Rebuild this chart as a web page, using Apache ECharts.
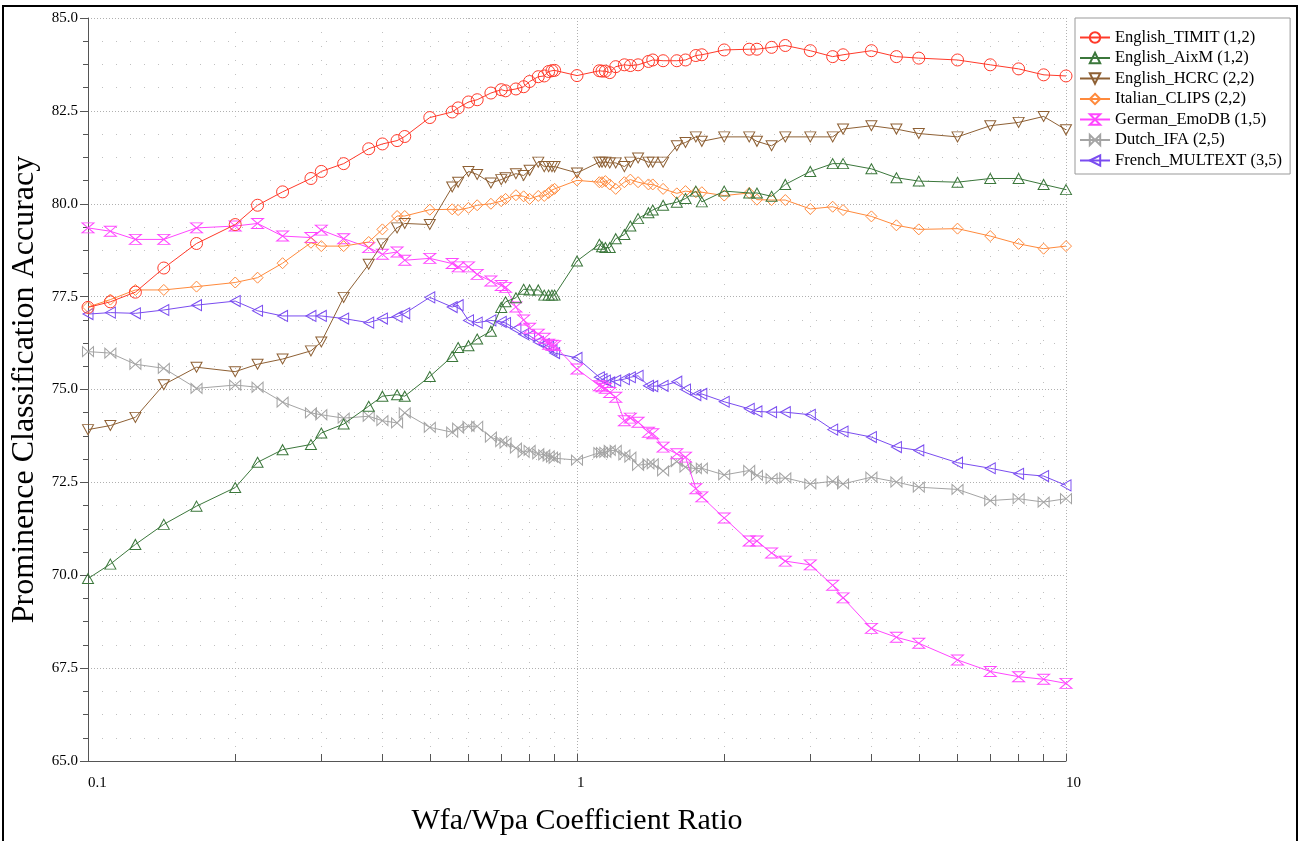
<!DOCTYPE html>
<html><head><meta charset="utf-8">
<script src="https://cdn.jsdelivr.net/npm/echarts@6/dist/echarts.min.js"></script>
<style>html,body{margin:0;padding:0;background:#fff}#c{width:1301px;height:841px}</style>
</head><body><div id="c"></div>
<script>
// x values: Wfa/Wpa coefficient ratios
const ratios = [0.1, 0.1111, 0.125, 0.1429, 0.1667, 0.2, 0.2222, 0.25, 0.2857, 0.3,
  0.3333, 0.375, 0.4, 0.4286, 0.4444, 0.5, 0.5556, 0.5714, 0.6, 0.625,
  0.6667, 0.7, 0.7143, 0.75, 0.7778, 0.8, 0.8333, 0.8571, 0.875, 0.8889,
  0.9, 1, 1.1111, 1.125, 1.1429, 1.1667, 1.2, 1.25, 1.2857, 1.3333,
  1.4, 1.4286, 1.5, 1.6, 1.6667, 1.75, 1.8, 2, 2.25, 2.3333,
  2.5, 2.6667, 3, 3.3333, 3.5, 4, 4.5, 5, 6, 7,
  8, 9, 10];

const english_TIMIT = [77.21, 77.36, 77.62, 78.27, 78.93, 79.44, 79.96, 80.32, 80.68, 80.87,
  81.08, 81.48, 81.61, 81.70, 81.81, 82.32, 82.47, 82.58, 82.74, 82.80,
  82.98, 83.07, 83.04, 83.09, 83.15, 83.29, 83.42, 83.44, 83.56, 83.58,
  83.59, 83.45, 83.58, 83.57, 83.57, 83.53, 83.69, 83.74, 83.72, 83.74,
  83.83, 83.87, 83.85, 83.85, 83.87, 83.99, 84.01, 84.14, 84.16, 84.16,
  84.21, 84.26, 84.12, 83.96, 84.01, 84.12, 83.96, 83.92, 83.87, 83.74,
  83.63, 83.47, 83.44];
const english_AixM = [69.91, 70.30, 70.83, 71.37, 71.86, 72.36, 73.04, 73.38, 73.52, 73.83,
  74.07, 74.55, 74.82, 74.86, 74.82, 75.35, 75.89, 76.13, 76.18, 76.36,
  76.57, 77.21, 77.36, 77.47, 77.70, 77.68, 77.68, 77.54, 77.54, 77.54,
  77.54, 78.46, 78.91, 78.84, 78.82, 78.82, 79.06, 79.17, 79.40, 79.60,
  79.76, 79.83, 79.96, 80.04, 80.14, 80.34, 80.05, 80.34, 80.29, 80.29,
  80.20, 80.52, 80.87, 81.08, 81.08, 80.94, 80.70, 80.61, 80.58, 80.68,
  80.68, 80.52, 80.38];
const english_HCRC = [73.92, 74.03, 74.25, 75.13, 75.60, 75.48, 75.68, 75.82, 76.04, 76.28,
  77.48, 78.37, 78.92, 79.35, 79.47, 79.44, 80.45, 80.58, 80.87, 80.79,
  80.56, 80.65, 80.70, 80.81, 80.76, 80.90, 81.12, 81.00, 81.00, 81.00,
  81.00, 80.83, 81.12, 81.12, 81.12, 81.10, 81.10, 81.00, 81.12, 81.23,
  81.12, 81.12, 81.12, 81.56, 81.65, 81.80, 81.68, 81.80, 81.80, 81.68,
  81.56, 81.80, 81.80, 81.80, 82.01, 82.10, 82.01, 81.89, 81.80, 82.10,
  82.19, 82.35, 81.99];
const italian_CLIPS = [77.22, 77.42, 77.68, 77.68, 77.77, 77.88, 78.01, 78.40, 78.95, 78.86,
  78.86, 78.97, 79.31, 79.67, 79.67, 79.84, 79.85, 79.83, 79.89, 79.96,
  80.00, 80.07, 80.13, 80.23, 80.20, 80.13, 80.21, 80.21, 80.29, 80.37,
  80.40, 80.63, 80.58, 80.58, 80.61, 80.52, 80.40, 80.58, 80.65, 80.58,
  80.52, 80.52, 80.40, 80.28, 80.34, 80.31, 80.31, 80.22, 80.29, 80.11,
  80.10, 80.10, 79.86, 79.92, 79.83, 79.66, 79.42, 79.31, 79.33, 79.13,
  78.92, 78.79, 78.86];
const german_EmoDB = [79.35, 79.26, 79.04, 79.04, 79.35, 79.40, 79.47, 79.13, 79.09, 79.29,
  79.06, 78.82, 78.64, 78.70, 78.48, 78.53, 78.39, 78.30, 78.30, 78.10,
  77.92, 77.80, 77.75, 77.22, 76.87, 76.65, 76.49, 76.38, 76.22, 76.19,
  76.18, 75.55, 75.10, 75.07, 75.03, 74.92, 74.79, 74.16, 74.23, 74.12,
  73.85, 73.81, 73.45, 73.27, 73.18, 72.33, 72.11, 71.54, 70.92, 70.92,
  70.60, 70.38, 70.28, 69.73, 69.39, 68.57, 68.33, 68.17, 67.72, 67.41,
  67.27, 67.20, 67.09];
const dutch_IFA = [76.02, 75.98, 75.68, 75.57, 75.03, 75.12, 75.06, 74.66, 74.37, 74.32,
  74.23, 74.28, 74.16, 74.10, 74.37, 73.98, 73.85, 73.96, 74.01, 74.01,
  73.72, 73.60, 73.56, 73.42, 73.31, 73.36, 73.27, 73.24, 73.21, 73.18,
  73.15, 73.10, 73.30, 73.30, 73.31, 73.36, 73.36, 73.24, 73.18, 72.96,
  73.00, 73.00, 72.81, 73.06, 72.91, 72.87, 72.88, 72.70, 72.82, 72.69,
  72.60, 72.62, 72.46, 72.53, 72.46, 72.64, 72.51, 72.37, 72.31, 72.01,
  72.06, 71.97, 72.06];
const french_MULTEXT = [77.03, 77.07, 77.05, 77.14, 77.27, 77.38, 77.12, 76.98, 76.98, 76.98,
  76.91, 76.80, 76.91, 76.96, 77.05, 77.48, 77.22, 77.27, 76.86, 76.80,
  76.86, 76.82, 76.79, 76.63, 76.49, 76.45, 76.28, 76.22, 76.15, 76.06,
  75.98, 75.85, 75.33, 75.28, 75.24, 75.19, 75.24, 75.28, 75.33, 75.37,
  75.10, 75.09, 75.10, 75.21, 75.00, 74.85, 74.88, 74.67, 74.48, 74.41,
  74.39, 74.39, 74.32, 73.92, 73.87, 73.72, 73.45, 73.36, 73.03, 72.88,
  72.73, 72.67, 72.42];

const seriesNames = ['English_TIMIT (1,2)', 'English_AixM (1,2)', 'English_HCRC (2,2)',
  'Italian_CLIPS (2,2)', 'German_EmoDB (1,5)', 'Dutch_IFA (2,5)', 'French_MULTEXT (3,5)'];
const seriesValues = [english_TIMIT, english_AixM, english_HCRC, italian_CLIPS,
  german_EmoDB, dutch_IFA, french_MULTEXT];

const xMajorTicks = [0.1, 1, 10];
const xMinorTicks = [0.2, 0.3, 0.4, 0.5, 0.6, 0.7, 0.8, 0.9, 2, 3, 4, 5, 6, 7, 8, 9];

const colors = ['#ff3a2a', '#3b773b', '#8e6034', '#ff8a3c', '#ff46ff', '#a4a4a4', '#7a4cf0'];
const symbols = ['circle',
  'path://M5,0 L10,9 L0,9 Z',
  'path://M0,0 L10,0 L5,9 Z',
  'path://M5,0 L10,5 L5,10 L0,5 Z',
  'path://M0,0 L10,0 L0,10 L10,10 Z',
  'path://M0,0 L0,10 L10,0 L10,10 Z',
  'path://M0,5 L9,0 L9,10 Z'];
const sizes = [12, [11, 10], [11, 10], [11, 11], [12, 10], [11, 10], [10, 11]];

const serif = 'Liberation Serif';
const chart = echarts.init(document.getElementById('c'), null, {renderer: 'canvas'});

const series = seriesNames.map((n, k) => ({
  name: n,
  type: 'line',
  data: ratios.map((x, i) => [x, seriesValues[k][i]]),
  symbol: symbols[k],
  symbolSize: sizes[k],
  showAllSymbol: true,
  color: colors[k],
  lineStyle: {color: colors[k], width: 1},
  itemStyle: {color: 'rgba(255,255,255,0)', borderColor: colors[k], borderWidth: 1},
  emphasis: {disabled: true},
  z: 10 - k
}));

chart.setOption({
  animation: false,
  backgroundColor: '#fff',
  grid: {left: 88, right: 235, top: 18, bottom: 73},
  graphic: [{
    type: 'rect', shape: {x: 3, y: 6, width: 1294, height: 842},
    style: {fill: 'none', stroke: '#000', lineWidth: 2}, silent: true, z: -1
  }],
  legend: {
    orient: 'vertical', left: 1075, top: 18,
    padding: [11, 8, 5, 4], itemGap: 3.5, itemWidth: 30, itemHeight: 13,
    borderColor: '#999', borderWidth: 1, backgroundColor: '#fff',
    textStyle: {fontFamily: serif, fontSize: 16.5, color: '#000'},
    data: seriesNames
  },
  xAxis: [{
    type: 'log', logBase: 10, min: 0.1, max: 10, position: 'bottom',
    axisLine: {show: true, onZero: false, lineStyle: {color: '#555', width: 1}},
    axisTick: {show: true, inside: true, length: 7, customValues: xMajorTicks, lineStyle: {color: '#555'}},
    axisLabel: {customValues: xMajorTicks, formatter: v => String(+v.toPrecision(3)), align: 'left',
      margin: 15, fontFamily: serif, fontSize: 15, color: '#000'},
    splitLine: {show: true, lineStyle: {color: '#b0b0b0', type: [1, 2]}},
    name: 'Wfa/Wpa Coefficient Ratio', nameLocation: 'middle', nameGap: 45,
    nameTextStyle: {fontFamily: serif, fontSize: 30, color: '#000'}
  }, {
    type: 'log', logBase: 10, min: 0.1, max: 10, position: 'bottom',
    axisLine: {show: false},
    axisTick: {show: true, inside: true, length: 7, customValues: xMinorTicks, lineStyle: {color: '#555'}},
    axisLabel: {show: false},
    splitLine: {show: true, lineStyle: {color: '#c0c0c0', type: [1, 13]}}
  }],
  yAxis: {
    type: 'value', min: 65, max: 85, interval: 2.5,
    axisLine: {show: true, lineStyle: {color: '#555', width: 1}},
    axisTick: {show: true, length: 8, lineStyle: {color: '#555'}},
    minorTick: {show: true, splitNumber: 4, length: 5, lineStyle: {color: '#555'}},
    axisLabel: {formatter: v => v.toFixed(1), margin: 10, fontFamily: serif, fontSize: 15, color: '#000'},
    splitLine: {show: true, lineStyle: {color: '#b0b0b0', type: [1, 2]}},
    minorSplitLine: {show: true, lineStyle: {color: '#c0c0c0', type: [1, 13]}},
    name: 'Prominence Classification Accuracy', nameLocation: 'middle', nameGap: 44,
    nameTextStyle: {fontFamily: serif, fontSize: 32, color: '#000'}
  },
  series: series
});
</script>
</body></html>
